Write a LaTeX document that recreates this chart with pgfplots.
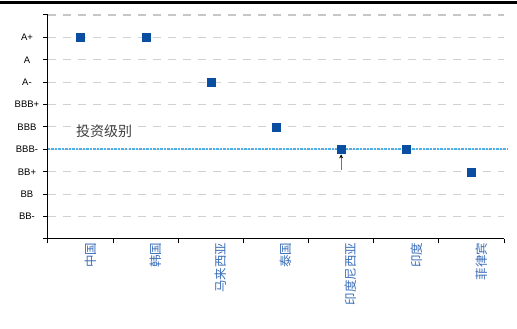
\documentclass[border=0pt]{standalone}
\usepackage{pgfplots}
\pgfplotsset{compat=1.18}
\usetikzlibrary{arrows.meta}
\usepackage{fontspec}
\setmainfont{Liberation Sans}
\newfontfamily\cjk{Noto Sans CJK SC}
\definecolor{mk}{HTML}{0A4EA2}
\definecolor{lab}{HTML}{3A6DB8}
\definecolor{refblue}{RGB}{79,176,232}
\begin{document}
\begin{tikzpicture}
\useasboundingbox (-48pt,-90pt) rectangle (469pt,239pt);
\begin{axis}[
  at={(0pt,0pt)}, anchor=south west,
  scale only axis, width=456pt, height=224pt,
  xmin=-0.5, xmax=6.5, ymin=0, ymax=10,
  clip=false,
  axis x line*=bottom, axis y line*=left,
  axis line style={line width=1pt, -},
  xtick={-0.5,0.5,...,6.5},
  xticklabels={},
  extra x ticks={0,...,6},
  extra x tick labels={中国,韩国,马来西亚,泰国,印度尼西亚,印度,菲律宾},
  extra x tick style={major tick length=0pt, xticklabel style={rotate=90, anchor=east, yshift=-10pt, font=\cjk\fontsize{12.5}{13}\selectfont, text=lab}},
  tick style={draw=black, line width=1pt},
  major tick length=4.5pt,
  tick align=outside,
  ytick={0,...,10},
  yticklabels={,BB-,BB,BB+,BBB-,BBB,BBB+,A-,A,A+,},
  yticklabel style={font=\fontsize{9.5}{10}\selectfont, text width=26pt, align=center},
  ymajorgrids,
  grid style={dash pattern=on 8pt off 7pt, black!18, line width=1pt},
]
\addplot[black!22, line width=1.4pt, dash pattern=on 8pt off 7pt, forget plot] coordinates {(-0.5,10) (6.5,10)};
\addplot[refblue, line width=1.8pt, dash pattern=on 2.5pt off 1pt, forget plot] coordinates {(-0.5,4) (6.56,4)};
\draw[black!55, line width=1pt, -{Stealth[length=4pt,width=4pt,black]}] (axis cs:4,3.08) -- (axis cs:4,3.78);
\addplot[only marks, mark=square*, mark size=4pt, mk] coordinates {(0,9) (1,9) (2,7) (3,5) (4,4) (5,4) (6,3)};
\node[font=\cjk\fontsize{14}{15}\selectfont, text=black!75] at (axis cs:0.36,4.82) {投资级别};
\end{axis}
\draw[line width=3pt] (-48pt,236.5pt) -- (469pt,236.5pt);
\end{tikzpicture}
\end{document}
